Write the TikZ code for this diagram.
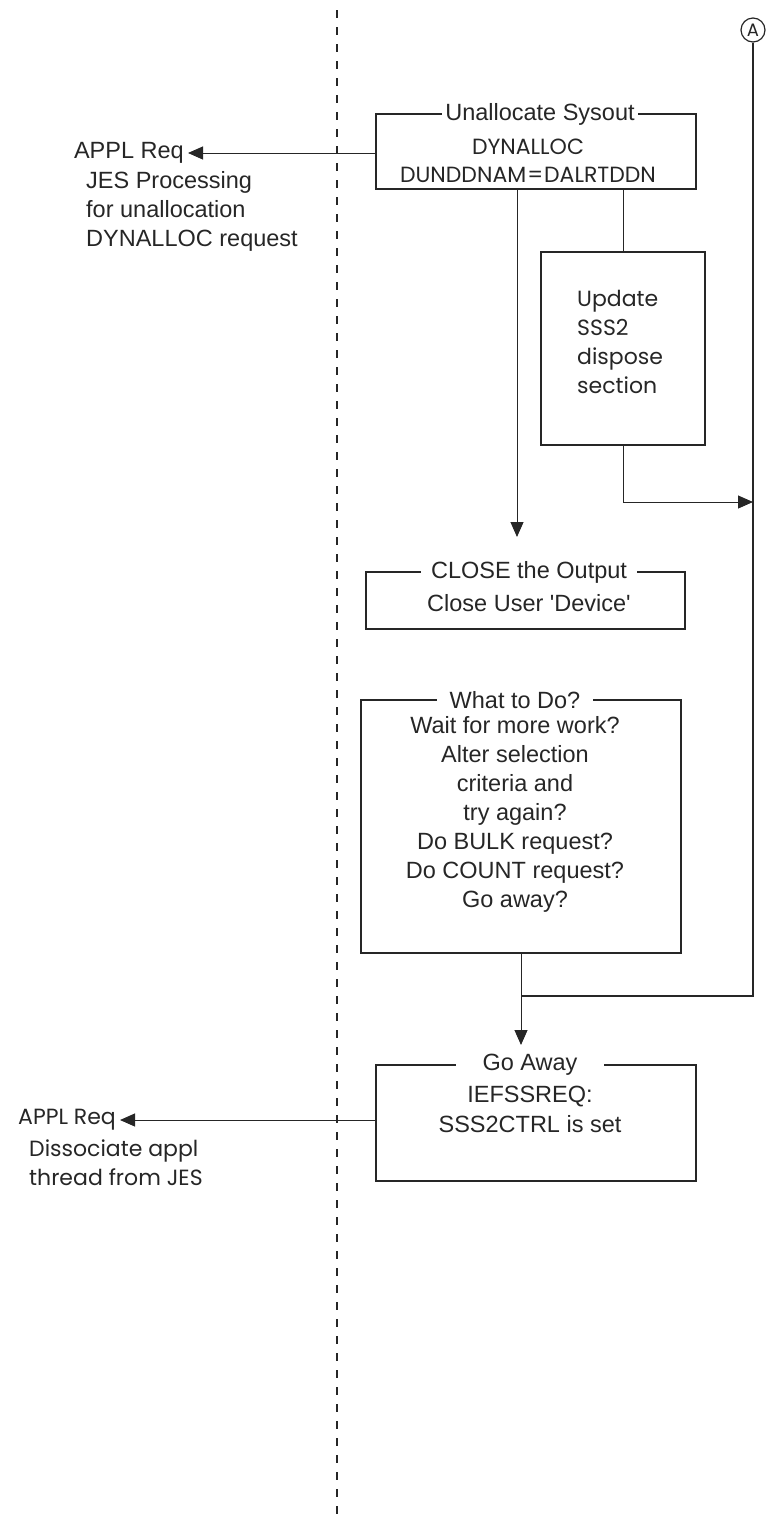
\documentclass[tikz,border=0pt]{standalone}
\usepackage{fontspec}
\setmainfont{Liberation Sans}
\newfontfamily\geo{Poppins}
\usetikzlibrary{arrows.meta}
\definecolor{ink}{HTML}{262626}
\begin{document}
\begin{tikzpicture}[x=1pt,y=-1pt,
  every node/.style={font=\fontsize{23.5}{29}\selectfont, text=ink, inner sep=0pt},
  geotext/.style={font=\geo\fontsize{22}{29}\selectfont},
  box/.style={draw=ink, line width=1.2pt, rectangle},
  ttl/.style={fill=white, inner ysep=3pt},
  conn/.style={draw=ink, line width=1pt},
  arr/.style={draw=ink, line width=1pt, -{Triangle[length=15pt,width=13pt]}},
  sep/.style={draw=ink, line width=1.4pt, dash pattern=on 8pt off 9pt}]
\useasboundingbox (0,0) rectangle (768,1516);

% separator
\coordinate (septop) at (337,10);
\coordinate (sepbot) at (337,1516);
\draw[sep] (septop) -- (sepbot);

% Unallocate Sysout
\node[box, minimum width=320pt, minimum height=75pt] (ubox) at (536,151.5) {};
\node[ttl, inner xsep=3pt] (uttl) at (540,114) {Unallocate Sysout};
\node[geotext] (ub1) at (528,147) {DYNALLOC};
\node[geotext] (ub2) at (528,175) {DUNDDNAM\kern1pt=\kern1ptDALRTDDN};

\node[anchor=east] (appl1) at (184,153) {APPL Req};
\node[anchor=west, align=left] (jes) at (86,211.5) {JES Processing\\for unallocation\\DYNALLOC request};
\draw[arr] (ubox.west |- appl1.east) -- ([xshift=4pt]appl1.east);

% Update box
\node[box, minimum width=164pt, minimum height=193pt] (upd) at (623,348.5) {};
\node[geotext, anchor=west, align=left] (updt) at (577,341.5) {Update\\SSS2\\dispose\\section};
\draw[conn] (upd.north |- ubox.south) -- (upd.north);

% circle A and right line
\node[circle, draw=ink, line width=1.2pt, minimum size=24pt, font=\geo\fontsize{18}{18}\selectfont] (cA) at (753,30) {A};
\coordinate (joinA) at (753,502);
\coordinate (corner) at (753,996);
\coordinate (merge) at (521,996);
\draw[draw=ink, line width=1.5pt] (cA.south) -- (corner) -- (merge);
\draw[arr] (upd.south) |- (joinA);

% CLOSE box
\coordinate (closein) at (517,537);
\draw[arr] (ubox.south -| closein) -- (closein);
\node[box, minimum width=319pt, minimum height=57pt] (close) at (525.5,600.5) {};
\node[ttl, inner xsep=10.5pt] (closettl) at (529,572) {CLOSE the Output};
\node (closeb) at (529,603) {Close User \textquotesingle Device\textquotesingle};

% What to do box
\node[box, minimum width=320pt, minimum height=253pt] (what) at (521,826.5) {};
\node[ttl, inner xsep=13pt] (whatttl) at (515,700) {What to Do?};
\node[align=center] (whatb) at (515,814.5) {Wait for more work?\\Alter selection\\criteria and\\try again?\\Do BULK request?\\Do COUNT request?\\Go away?};

% Go away box
\coordinate (goin) at (521,1045);
\draw[arr] (what.south) -- (goin);
\node[box, minimum width=320pt, minimum height=116pt] (go) at (536,1123) {};
\node[ttl, inner xsep=27pt] (gottl) at (530,1065) {Go Away};
\node (gob1) at (530,1097) {IEFSSREQ:};
\node (gob2) at (530,1124) {SSS2CTRL is set};

\node[geotext, anchor=east] (appl2) at (116,1120) {APPL Req};
\node[geotext, anchor=west, align=left] (diss) at (29,1163) {Dissociate appl\\thread from JES};
\draw[arr] (go.west |- appl2.east) -- ([xshift=4pt]appl2.east);
\end{tikzpicture}
\end{document}
